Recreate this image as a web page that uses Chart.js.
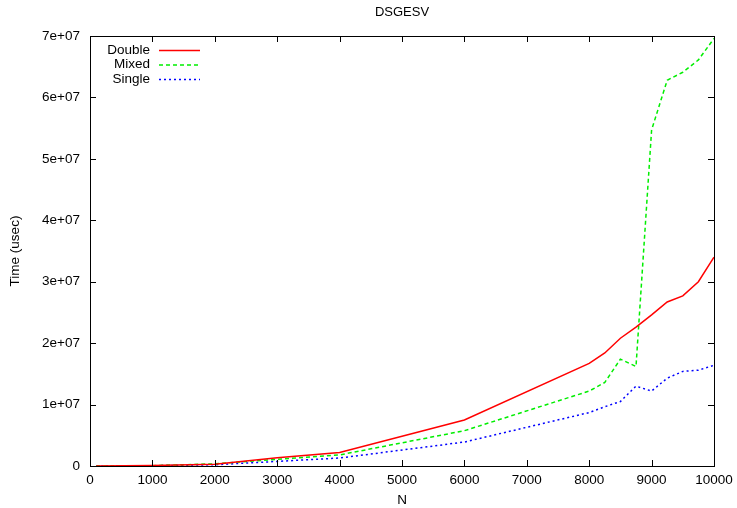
<!DOCTYPE html>
<html>
<head>
<meta charset="utf-8">
<script src="https://cdn.jsdelivr.net/npm/chart.js@4/dist/chart.umd.min.js"></script>
<style>
  body { margin: 0; background: #fff; }
  #wrap { width: 737px; height: 508px; }
</style>
</head>
<body>
<div id="wrap"><canvas id="chart" width="737" height="508"></canvas></div>
<script>
const sizes = [100, 1000, 2000, 3000, 4000, 6000, 8000, 8250, 8500, 8750, 9000, 9250, 9500, 9750, 10000];
const doubleTimes = [0.01e6, 0.08e6, 0.3e6, 1.35e6, 2.2e6, 7.5e6, 16.7e6, 18.4e6, 20.8e6, 22.6e6, 24.6e6, 26.7e6, 27.7e6, 30.0e6, 34.0e6];
const mixedTimes = [0.01e6, 0.06e6, 0.35e6, 1.1e6, 1.8e6, 5.75e6, 12.2e6, 13.6e6, 17.4e6, 16.2e6, 54.7e6, 62.8e6, 64.1e6, 66.1e6, 69.6e6];
const singleTimes = [0.01e6, 0.04e6, 0.2e6, 0.75e6, 1.3e6, 3.9e6, 8.7e6, 9.65e6, 10.5e6, 13.0e6, 12.2e6, 14.3e6, 15.4e6, 15.6e6, 16.4e6];
const seriesNames = ['Double', 'Mixed', 'Single'];

const FONT = 'Liberation Sans, Arial, Helvetica, sans-serif';
const FSIZE = 13.5;

function toPoints(ys) {
  return sizes.map((x, i) => ({ x: x, y: ys[i] }));
}

// gnuplot-like frame, inward ticks, title and legend
const gnuFrame = {
  id: 'gnuFrame',
  afterDraw(chart) {
    const { ctx, chartArea: a, scales } = chart;
    ctx.save();
    ctx.strokeStyle = '#000';
    ctx.lineWidth = 1;
    ctx.strokeRect(Math.round(a.left) + 0.5, Math.round(a.top) + 0.5,
      Math.round(a.right - a.left), Math.round(a.bottom - a.top));

    ctx.beginPath();
    scales.x.ticks.forEach(t => {
      const px = Math.round(scales.x.getPixelForValue(t.value)) + 0.5;
      ctx.moveTo(px, a.bottom); ctx.lineTo(px, a.bottom - 6);
      ctx.moveTo(px, a.top); ctx.lineTo(px, a.top + 6);
    });
    scales.y.ticks.forEach(t => {
      const py = Math.round(scales.y.getPixelForValue(t.value)) + 0.5;
      ctx.moveTo(a.left, py); ctx.lineTo(a.left + 6, py);
      ctx.moveTo(a.right, py); ctx.lineTo(a.right - 6, py);
    });
    ctx.stroke();

    ctx.fillStyle = '#000';
    ctx.font = '13px ' + FONT;
    ctx.textAlign = 'center';
    ctx.textBaseline = 'middle';
    ctx.fillText('DSGESV', (a.left + a.right) / 2, 12);

    // legend
    ctx.font = FSIZE + 'px ' + FONT;
    chart.data.datasets.forEach((ds, i) => {
      const y = a.top + 14 + i * 14.5;
      ctx.textAlign = 'right';
      ctx.fillStyle = '#000';
      ctx.fillText(ds.label, a.left + 60, y);
      ctx.beginPath();
      ctx.strokeStyle = ds.borderColor;
      ctx.lineWidth = ds.borderWidth;
      ctx.setLineDash(ds.borderDash || []);
      ctx.moveTo(a.left + 69, y + 0.5);
      ctx.lineTo(a.left + 110, y + 0.5);
      ctx.stroke();
      ctx.setLineDash([]);
    });
    ctx.restore();
  }
};

new Chart(document.getElementById('chart'), {
  type: 'line',
  data: {
    datasets: [
      { label: seriesNames[0], data: toPoints(doubleTimes), borderColor: '#ff0000', borderWidth: 1.5 },
      { label: seriesNames[1], data: toPoints(mixedTimes), borderColor: '#00ee00', borderWidth: 1.5, borderDash: [4, 3] },
      { label: seriesNames[2], data: toPoints(singleTimes), borderColor: '#0000ff', borderWidth: 1.5, borderDash: [2, 3] }
    ]
  },
  options: {
    responsive: false,
    animation: false,
    layout: { padding: { top: 36, right: 23, left: 0, bottom: 0 } },
    elements: { point: { radius: 0 }, line: { tension: 0, fill: false } },
    plugins: { legend: { display: false }, title: { display: false }, tooltip: { enabled: false } },
    scales: {
      x: {
        type: 'linear', min: 0, max: 10000,
        afterFit(scale) { scale.height = 42; scale.paddingRight = 0; scale.paddingLeft = 0; },
        ticks: {
          stepSize: 1000, color: '#000', padding: 6, maxRotation: 0, font: { family: FONT, size: FSIZE },
          callback: v => String(v)
        },
        grid: { display: false, drawTicks: false },
        border: { display: false },
        title: { display: true, text: 'N', color: '#000', font: { family: FONT, size: FSIZE }, padding: 0 }
      },
      y: {
        min: 0, max: 7e7,
        afterFit(scale) { scale.width = 90; },
        ticks: {
          stepSize: 1e7, color: '#000', padding: 10, font: { family: FONT, size: FSIZE },
          callback: v => v === 0 ? '0' : (v / 1e7) + 'e+07'
        },
        grid: { display: false, drawTicks: false },
        border: { display: false },
        title: { display: true, text: 'Time (usec)', color: '#000', font: { family: FONT, size: FSIZE }, padding: 7 }
      }
    }
  },
  plugins: [gnuFrame]
});
</script>
</body>
</html>
